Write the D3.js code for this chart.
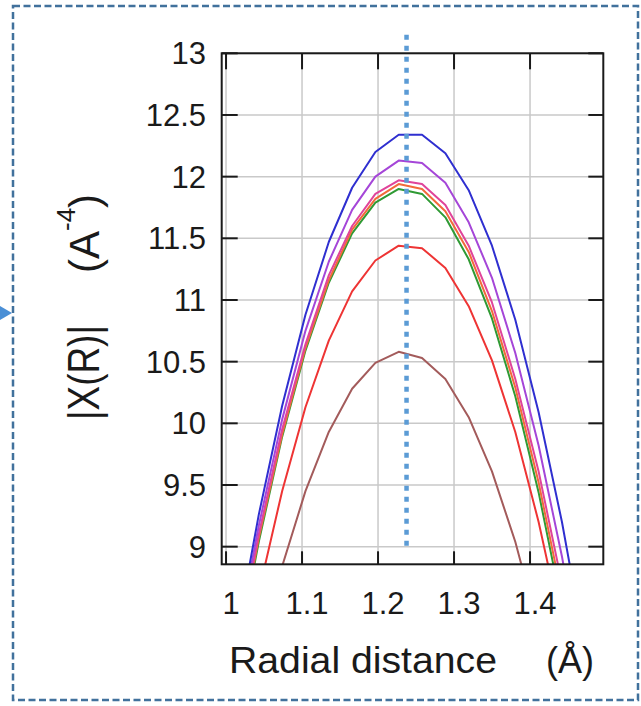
<!DOCTYPE html>
<html>
<head>
<meta charset="utf-8">
<script src="https://cdn.jsdelivr.net/npm/d3@7"></script>
<style>
  body { margin: 0; background: #fff; }
  svg { display: block; }
  text { font-family: "Liberation Sans", Arial, sans-serif; fill: #1a1a1a; }
</style>
</head>
<body>
<svg id="chart"></svg>
<script>
// radial grid (A) and |chi(R)| of each curve
var radius = [1.0124, 1.0431, 1.0738, 1.1045, 1.1352, 1.1659, 1.1965, 1.2272,
              1.2579, 1.2886, 1.3193, 1.3499, 1.3806, 1.4113, 1.4420, 1.4727];
var blueVals    = [8.23, 9.26, 10.14, 10.88, 11.47, 11.91, 12.20, 12.34, 12.34, 12.19, 11.89, 11.44, 10.84, 10.09, 9.20, 8.16];
var purpleVals  = [8.17, 9.17, 10.03, 10.75, 11.31, 11.73, 12.00, 12.13, 12.11, 11.95, 11.63, 11.18, 10.57, 9.82, 8.92, 7.88];
var magentaVals = [8.12, 9.10, 9.95, 10.64, 11.20, 11.60, 11.86, 11.97, 11.94, 11.77, 11.44, 10.98, 10.36, 9.61, 8.70, 7.65];
var orangeVals  = [8.08, 9.07, 9.91, 10.61, 11.16, 11.57, 11.82, 11.94, 11.90, 11.72, 11.39, 10.91, 10.29, 9.52, 8.60, 7.53];
var greenVals   = [8.05, 9.04, 9.89, 10.59, 11.14, 11.54, 11.79, 11.90, 11.86, 11.67, 11.33, 10.85, 10.22, 9.44, 8.51, 7.43];
var redVals     = [7.66, 8.63, 9.45, 10.13, 10.67, 11.07, 11.32, 11.44, 11.42, 11.26, 10.95, 10.51, 9.93, 9.20, 8.34, 7.33];
var brownVals   = [7.23, 8.10, 8.84, 9.45, 9.93, 10.28, 10.49, 10.58, 10.53, 10.36, 10.05, 9.61, 9.04, 8.33, 7.50, 6.54];

var xTicks = [1.0, 1.1, 1.2, 1.3, 1.4];
var xTickLabels = ["1", "1.1", "1.2", "1.3", "1.4"];
var yTicks = [9, 9.5, 10, 10.5, 11, 11.5, 12, 12.5, 13];
var yTickLabels = ["9", "9.5", "10", "10.5", "11", "11.5", "12", "12.5", "13"];

// peak position marker
var markX = 1.2375;
var markY = [8.96, 13.15];

var series = [
  { name: "brown",   vals: brownVals,   color: "#a35b5b" },
  { name: "red",     vals: redVals,     color: "#ee3434" },
  { name: "green",   vals: greenVals,   color: "#2f9a34" },
  { name: "orange",  vals: orangeVals,  color: "#f26a3a" },
  { name: "magenta", vals: magentaVals, color: "#e0449a" },
  { name: "purple",  vals: purpleVals,  color: "#a546d8" },
  { name: "blue",    vals: blueVals,    color: "#2f2fd0" }
];

var W = 641, H = 706;
var pL = 221.7, pR = 603.3, pT = 53.3, pB = 564.3;

var svg = d3.select("#chart").attr("width", W).attr("height", H);
svg.append("rect").attr("width", W).attr("height", H).attr("fill", "#fff");

// dashed outer frame + little arrow head on the left
svg.append("rect")
  .attr("x", 13).attr("y", 6).attr("width", 625).attr("height", 694)
  .attr("fill", "none").attr("stroke", "#41719c")
  .attr("stroke-width", 2.5).attr("stroke-dasharray", "7,3.5");
svg.append("path")
  .attr("d", "M0,306 L12,313 L0,320 Z")
  .attr("fill", "#4a8fd6");

var x = d3.scaleLinear().domain([0.9943, 1.4964]).range([pL, pR]);
var y = d3.scaleLinear().domain([8.857, 13]).range([pB, pT]);

svg.append("clipPath").attr("id", "plotclip")
  .append("rect")
  .attr("x", pL).attr("y", pT)
  .attr("width", pR - pL).attr("height", pB - pT);

// grid
var grid = svg.append("g");
grid.selectAll("line.vg").data(xTicks).enter().append("line")
  .attr("x1", d => x(d)).attr("x2", d => x(d))
  .attr("y1", pT).attr("y2", pB)
  .attr("stroke", "#c9c9c9").attr("stroke-width", 1.5);
grid.selectAll("line.hg").data(yTicks).enter().append("line")
  .attr("x1", pL).attr("x2", pR)
  .attr("y1", d => y(d)).attr("y2", d => y(d))
  .attr("stroke", "#c9c9c9").attr("stroke-width", 1.5);

// curves
var line = d3.line()
  .x((d, i) => x(radius[i]))
  .y(d => y(d));

svg.append("g").attr("clip-path", "url(#plotclip)")
  .selectAll("path").data(series).enter().append("path")
  .attr("d", d => line(d.vals))
  .attr("fill", "none")
  .attr("stroke", d => d.color)
  .attr("stroke-width", 2)
  .attr("stroke-linejoin", "round");

// dotted vertical marker
svg.append("line")
  .attr("x1", x(markX)).attr("x2", x(markX))
  .attr("y1", y(markY[1])).attr("y2", y(markY[0]))
  .attr("stroke", "#5b9bd5").attr("stroke-width", 4.5)
  .attr("stroke-dasharray", "5,6");

// frame
svg.append("rect")
  .attr("x", pL).attr("y", pT)
  .attr("width", pR - pL).attr("height", pB - pT)
  .attr("fill", "none").attr("stroke", "#1a1a1a").attr("stroke-width", 2);

// ticks
var ticks = svg.append("g").attr("stroke", "#1a1a1a").attr("stroke-width", 2);
xTicks.forEach(function (t) {
  ticks.append("line").attr("x1", x(t)).attr("x2", x(t)).attr("y1", pT).attr("y2", pT + 16);
  ticks.append("line").attr("x1", x(t)).attr("x2", x(t)).attr("y1", pB).attr("y2", pB - 13);
});
yTicks.forEach(function (t) {
  ticks.append("line").attr("x1", pL).attr("x2", pL + 16).attr("y1", y(t)).attr("y2", y(t));
  ticks.append("line").attr("x1", pR).attr("x2", pR - 15).attr("y1", y(t)).attr("y2", y(t));
});

// tick labels
svg.selectAll("text.xl").data(xTicks).enter().append("text")
  .attr("x", d => x(d) + 5).attr("y", 614)
  .attr("text-anchor", "middle").style("font-size", "31px")
  .text((d, i) => xTickLabels[i]);
svg.selectAll("text.yl").data(yTicks).enter().append("text")
  .attr("x", 206).attr("y", d => y(d) + 11)
  .attr("text-anchor", "end").style("font-size", "31px")
  .text((d, i) => yTickLabels[i]);

// axis titles
svg.append("text")
  .attr("x", 229).attr("y", 673)
  .style("font-size", "36px")
  .attr("textLength", 268).attr("lengthAdjust", "spacingAndGlyphs")
  .text("Radial distance");
svg.append("text")
  .attr("x", 546).attr("y", 673)
  .style("font-size", "36px")
  .text("(Å)");

var yl = svg.append("g").attr("transform", "translate(99,0) rotate(-90)");
yl.append("text")
  .attr("x", -372.5).attr("y", 0)
  .attr("text-anchor", "middle").style("font-size", "44px")
  .attr("textLength", 95).attr("lengthAdjust", "spacingAndGlyphs")
  .text("|Χ(R)|");
var t2 = yl.append("text")
  .attr("x", -273).attr("y", 0)
  .style("font-size", "42px");
t2.append("tspan").text("(A");
t2.append("tspan").attr("dy", -24).style("font-size", "26px").text("-4");
t2.append("tspan").attr("dy", 24).text(")");
</script>
</body>
</html>
